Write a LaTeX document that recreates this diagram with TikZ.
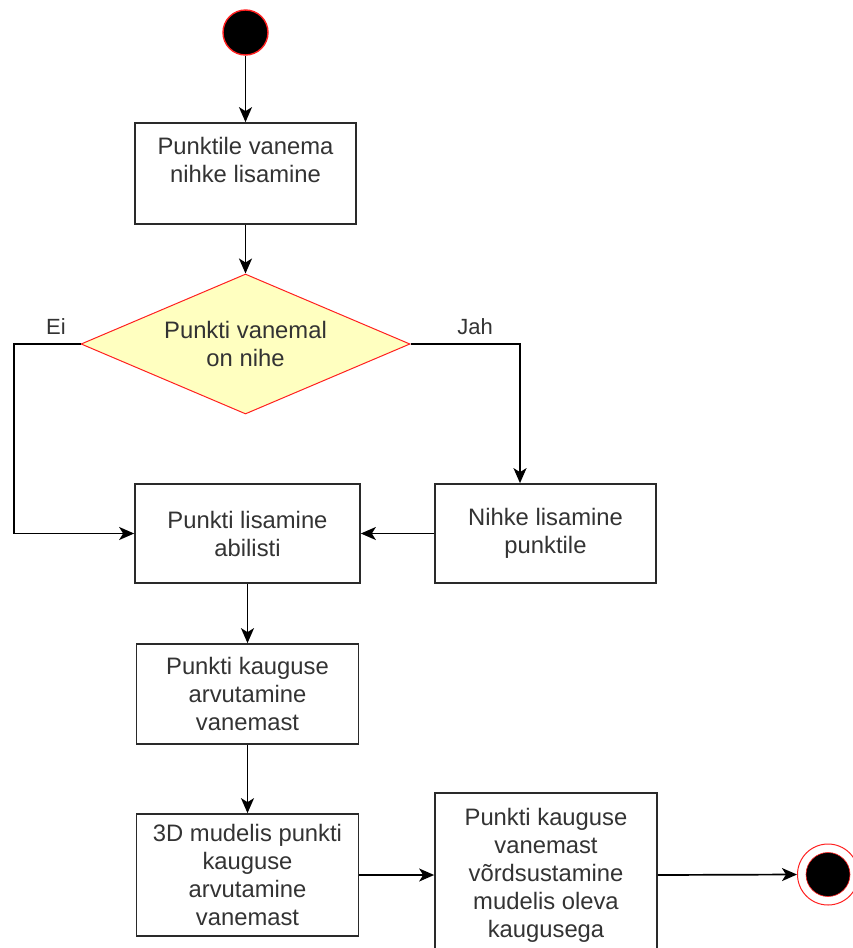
\documentclass[tikz,border=0pt]{standalone}
\usepackage{fontspec}
\setmainfont{Liberation Sans}
\usetikzlibrary{shapes.geometric,arrows.meta}
\definecolor{txt}{HTML}{333333}
\definecolor{boxline}{HTML}{2A2A2A}
\definecolor{dfill}{HTML}{FFFFC0}
\definecolor{dred}{HTML}{FF2020}
\begin{document}
\begin{tikzpicture}[x=1pt,y=-1pt,
  every node/.style={font=\fontsize{23.8}{28}\selectfont, text=txt},
  stepbox/.style={draw=boxline, line width=1.7pt, fill=white, align=center, inner sep=0pt},
  conn/.style={line width=1.7pt, draw=black, -{Stealth[length=15pt,width=13pt,inset=4pt]}},
  lab/.style={font=\fontsize{22}{24}\selectfont, text=txt}
]
\useasboundingbox (0,0) rectangle (853,948);
\fill[white] (0,0) rectangle (853,948);

% start
\node[circle, fill=black, draw=dred, line width=1.4pt, minimum size=45pt, inner sep=0pt] (start) at (245.5,32.5) {};

% boxes
\node[stepbox, minimum width=221pt, minimum height=101pt] (b1) at (245.5,173.5) {Punktile vanema\\nihke lisamine\\\mbox{}};
\node[diamond, draw=dred, fill=dfill, line width=1pt, aspect=2.357, minimum width=329pt, minimum height=140pt, inner sep=0pt, align=center] (d) at (245.5,344) {Punkti vanemal\\on nihe};
\node[stepbox, minimum width=225pt, minimum height=99pt] (b2) at (247.5,533.5) {Punkti lisamine\\abilisti};
\node[stepbox, minimum width=221pt, minimum height=99pt] (b3) at (545.5,533.5) {Nihke lisamine\\punktile};
\node[stepbox, minimum width=222pt, minimum height=100pt] (b4) at (247.5,694) {Punkti kauguse\\arvutamine\\vanemast};
\node[stepbox, minimum width=222pt, minimum height=122pt] (b5) at (247.5,875) {3D mudelis punkti\\kauguse\\arvutamine\\vanemast};
\node[stepbox, minimum width=222pt, minimum height=164pt] (b6) at (546,875) {Punkti kauguse\\vanemast\\võrdsustamine\\mudelis oleva\\kaugusega};

% end
\node[circle, draw=dred, fill=white, line width=1pt, minimum size=61pt, inner sep=0pt] (endo) at (828,874.5) {};
\node[circle, fill=black, draw=dred, line width=0.6pt, minimum size=44pt, inner sep=0pt] (endi) at (828,874.5) {};

% connectors
\draw[conn] (start.south) -- (b1.north);
\draw[conn] (b1.south) -- (d.north);
\coordinate (eiA) at (14,344);
\coordinate (eiB) at (14,533.5);
\coordinate (jahA) at (520,344);
\draw[conn] (d.west) -- (eiA) -- (eiB) -- (b2.west);
\draw[conn] (d.east) -- (jahA) -- (b3.north -| jahA);
\draw[conn] (b3.west) -- (b2.east);
\draw[conn] (b2.south) -- (b4.north);
\draw[conn] (b4.south) -- (b5.north);
\draw[conn] (b5.east) -- (b6.west);
\draw[conn] (b6.east) -- (endo.west);

\node[lab] (ei) at (56,327) {Ei};
\node[lab] (jah) at (475,327) {Jah};
\end{tikzpicture}
\end{document}
